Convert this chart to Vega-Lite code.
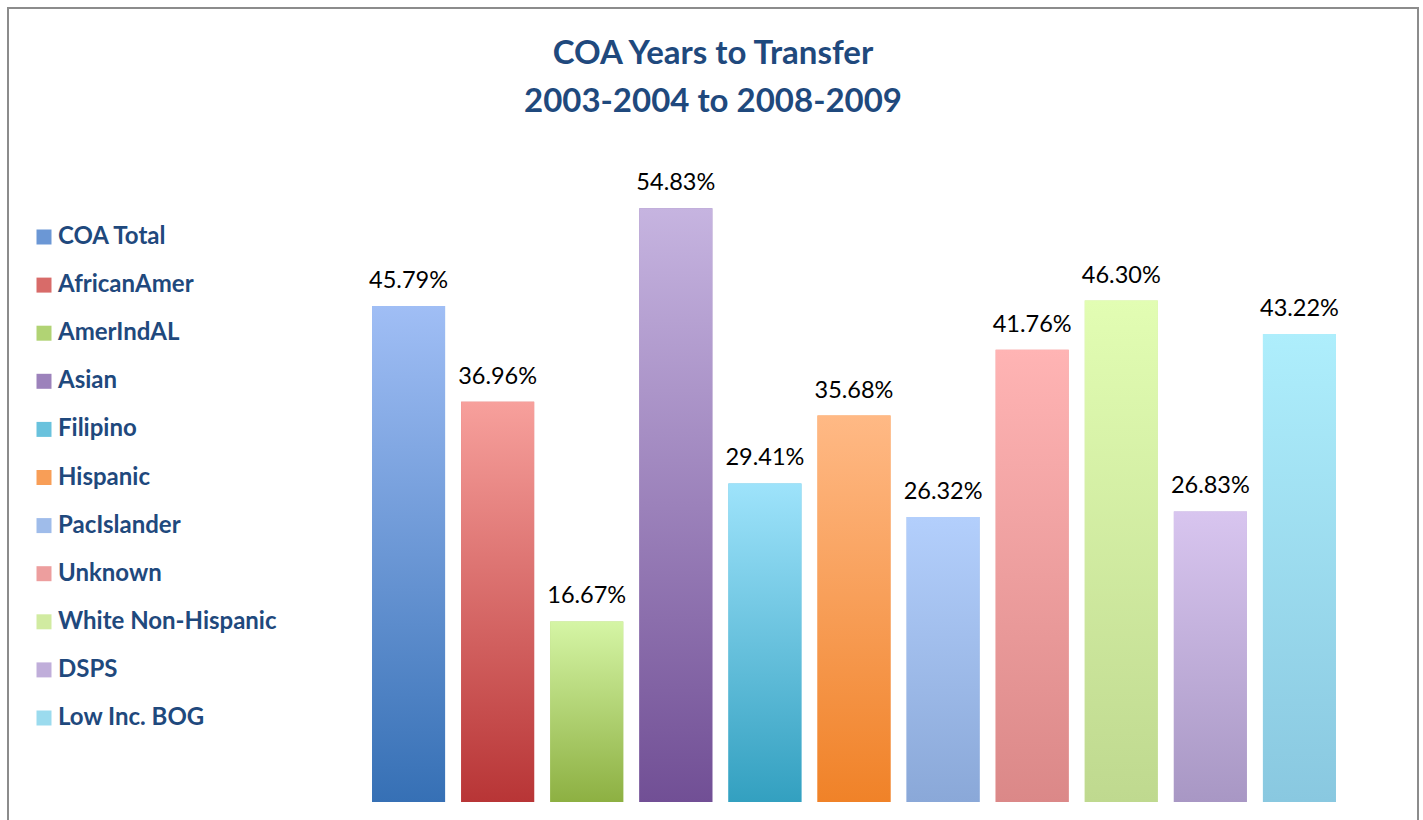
{
  "$schema": "https://vega.github.io/schema/vega-lite/v6.json",
  "autosize": {"type": "none"},
  "width": 1410,
  "height": 814,
  "padding": {"left": 8, "top": 8, "right": 5, "bottom": 0},
  "background": "white",
  "config": {
    "view": {"stroke": "#8c8c8c", "strokeWidth": 2},
    "font": "Lato"
  },
  "title": {
    "text": ["COA Years to Transfer", "2003-2004 to 2008-2009"],
    "orient": "top",
    "anchor": "middle",
    "frame": "group",
    "baseline": "top",
    "offset": -111,
    "lineHeight": 48,
    "font": "Lato",
    "fontSize": 33,
    "fontWeight": "bold",
    "color": "#1f497d"
  },
  "data": {
    "values": [
      {"group": "COA Total", "rate": 0.4579},
      {"group": "AfricanAmer", "rate": 0.3696},
      {"group": "AmerIndAL", "rate": 0.1667},
      {"group": "Asian", "rate": 0.5483},
      {"group": "Filipino", "rate": 0.2941},
      {"group": "Hispanic", "rate": 0.3568},
      {"group": "PacIslander", "rate": 0.2632},
      {"group": "Unknown", "rate": 0.4176},
      {"group": "White Non-Hispanic", "rate": 0.4630},
      {"group": "DSPS", "rate": 0.2683},
      {"group": "Low Inc. BOG", "rate": 0.4322}
    ]
  },
  "encoding": {
    "x": {
      "field": "group",
      "type": "nominal",
      "sort": null,
      "axis": null,
      "scale": {
        "domain": ["COA Total", "AfricanAmer", "AmerIndAL", "Asian", "Filipino", "Hispanic", "PacIslander", "Unknown", "White Non-Hispanic", "DSPS", "Low Inc. BOG"],
        "range": [356, 1336],
        "paddingInner": 0.18, "paddingOuter": 0.09
      }
    },
    "y": {
      "field": "rate",
      "type": "quantitative",
      "axis": null,
      "scale": {"domain": [-0.0185, 0.7332], "nice": false, "zero": false}
    }
  },
  "layer": [
    {
      "mark": {"type": "bar"},
      "encoding": {
        "y2": {"datum": 0},
        "fill": {
          "field": "group",
          "type": "nominal",
          "sort": null,
          "scale": {
            "domain": ["COA Total", "AfricanAmer", "AmerIndAL", "Asian", "Filipino", "Hispanic", "PacIslander", "Unknown", "White Non-Hispanic", "DSPS", "Low Inc. BOG"],
            "range": ["#6b97d5", "#d86b69", "#b1d374", "#9c82bb", "#69c2dd", "#f89e57", "#9fbcea", "#ed9e9e", "#d1eba1", "#c0aeda", "#9bdbee"]
          },
          "legend": {
            "title": null,
            "orient": "none",
            "legendX": 24,
            "legendY": 217,
            "padding": 0,
            "symbolType": "square",
            "symbolSize": 225,
            "symbolStrokeWidth": 0,
            "symbolOpacity": 1,
            "labelFont": "Lato",
            "labelFontSize": 24,
            "labelFontWeight": "bold",
            "labelColor": "#1f497d",
            "labelOffset": 2,
            "labelLimit": 400,
            "rowPadding": 24.1
          }
        }
      }
    },
    {"transform": [{"filter": "datum.group === 'COA Total'"}], "mark": {"type": "bar", "fill": {"gradient": "linear", "x1": 0, "y1": 0, "x2": 0, "y2": 1, "stops": [{"offset": 0, "color": "#a0bef5"}, {"offset": 1, "color": "#3670b5"}]}}, "encoding": {"y2": {"datum": 0}}},
    {"transform": [{"filter": "datum.group === 'AfricanAmer'"}], "mark": {"type": "bar", "fill": {"gradient": "linear", "x1": 0, "y1": 0, "x2": 0, "y2": 1, "stops": [{"offset": 0, "color": "#f7a09c"}, {"offset": 1, "color": "#b83536"}]}}, "encoding": {"y2": {"datum": 0}}},
    {"transform": [{"filter": "datum.group === 'AmerIndAL'"}], "mark": {"type": "bar", "fill": {"gradient": "linear", "x1": 0, "y1": 0, "x2": 0, "y2": 1, "stops": [{"offset": 0, "color": "#d5f5a5"}, {"offset": 1, "color": "#8db042"}]}}, "encoding": {"y2": {"datum": 0}}},
    {"transform": [{"filter": "datum.group === 'Asian'"}], "mark": {"type": "bar", "fill": {"gradient": "linear", "x1": 0, "y1": 0, "x2": 0, "y2": 1, "stops": [{"offset": 0, "color": "#c6b4e0"}, {"offset": 1, "color": "#714f95"}]}}, "encoding": {"y2": {"datum": 0}}},
    {"transform": [{"filter": "datum.group === 'Filipino'"}], "mark": {"type": "bar", "fill": {"gradient": "linear", "x1": 0, "y1": 0, "x2": 0, "y2": 1, "stops": [{"offset": 0, "color": "#9ee3fb"}, {"offset": 1, "color": "#33a0c0"}]}}, "encoding": {"y2": {"datum": 0}}},
    {"transform": [{"filter": "datum.group === 'Hispanic'"}], "mark": {"type": "bar", "fill": {"gradient": "linear", "x1": 0, "y1": 0, "x2": 0, "y2": 1, "stops": [{"offset": 0, "color": "#ffb985"}, {"offset": 1, "color": "#f08228"}]}}, "encoding": {"y2": {"datum": 0}}},
    {"transform": [{"filter": "datum.group === 'PacIslander'"}], "mark": {"type": "bar", "fill": {"gradient": "linear", "x1": 0, "y1": 0, "x2": 0, "y2": 1, "stops": [{"offset": 0, "color": "#b3cffc"}, {"offset": 1, "color": "#8aa8d8"}]}}, "encoding": {"y2": {"datum": 0}}},
    {"transform": [{"filter": "datum.group === 'Unknown'"}], "mark": {"type": "bar", "fill": {"gradient": "linear", "x1": 0, "y1": 0, "x2": 0, "y2": 1, "stops": [{"offset": 0, "color": "#ffb4b4"}, {"offset": 1, "color": "#db8888"}]}}, "encoding": {"y2": {"datum": 0}}},
    {"transform": [{"filter": "datum.group === 'White Non-Hispanic'"}], "mark": {"type": "bar", "fill": {"gradient": "linear", "x1": 0, "y1": 0, "x2": 0, "y2": 1, "stops": [{"offset": 0, "color": "#e2fdb3"}, {"offset": 1, "color": "#bfd98f"}]}}, "encoding": {"y2": {"datum": 0}}},
    {"transform": [{"filter": "datum.group === 'DSPS'"}], "mark": {"type": "bar", "fill": {"gradient": "linear", "x1": 0, "y1": 0, "x2": 0, "y2": 1, "stops": [{"offset": 0, "color": "#d8c5ef"}, {"offset": 1, "color": "#a897c4"}]}}, "encoding": {"y2": {"datum": 0}}},
    {"transform": [{"filter": "datum.group === 'Low Inc. BOG'"}], "mark": {"type": "bar", "fill": {"gradient": "linear", "x1": 0, "y1": 0, "x2": 0, "y2": 1, "stops": [{"offset": 0, "color": "#aeeefc"}, {"offset": 1, "color": "#89c8e0"}]}}, "encoding": {"y2": {"datum": 0}}},
    {
      "mark": {"type": "text", "baseline": "alphabetic", "dy": -18, "font": "Lato", "fontSize": 23.5, "color": "#000000"},
      "encoding": {
        "text": {"field": "rate", "type": "quantitative", "format": ".2%"}
      }
    }
  ]
}
